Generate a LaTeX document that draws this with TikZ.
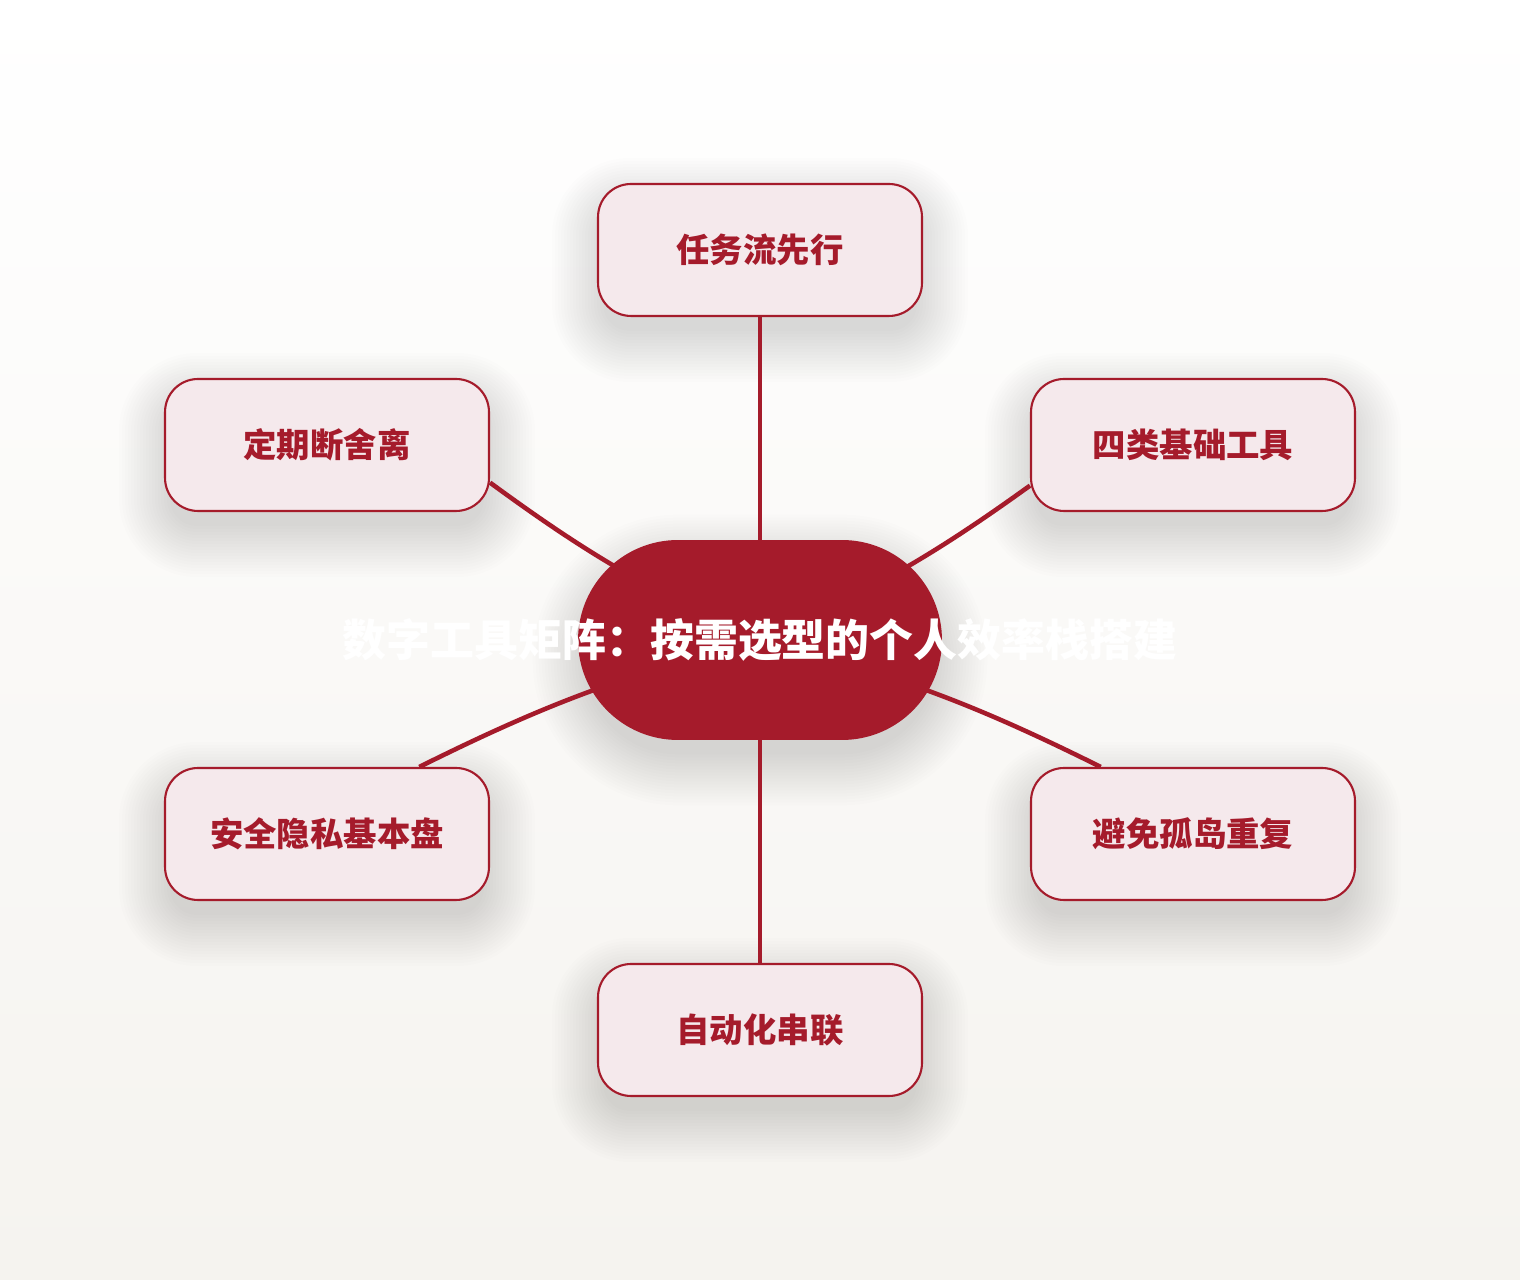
\documentclass[tikz,border=0pt]{standalone}
\usepackage{fontspec}
\newfontfamily\cjk{Noto Sans CJK SC}
\usetikzlibrary{calc}
\definecolor{myred}{RGB}{165,27,43}
\definecolor{mypink}{RGB}{245,233,236}
\definecolor{mybg}{RGB}{245,243,239}
\pgfdeclarelayer{back}
\pgfdeclarelayer{shade}
\pgfdeclarelayer{links}
\pgfsetlayers{back,shade,links,main}
\newcommand{\nodeshadow}[3]{%
  \begin{pgfonlayer}{shade}
    \foreach \r in {-6,-3,...,45}{
      \pgfmathsetmacro\rc{max(#2+\r,1)*0.02}
      \fill[black,opacity=#3,rounded corners=\rc cm] ($(#1.south west)+(-\r,-\r-20)$) rectangle ($(#1.north east)+(\r,\r-20)$);
    }
  \end{pgfonlayer}}

\begin{document}
\begin{tikzpicture}[x=0.02cm,y=0.02cm,
    leaf/.style={draw=myred,line width=1.2pt,fill=mypink,rounded corners=0.66cm,
      minimum width=6.48cm,minimum height=2.64cm,text=myred,
      font=\cjk\bfseries\fontsize{19}{23}\selectfont},
    hub/.style={fill=myred,rounded corners=2cm,minimum width=7.28cm,minimum height=4cm},
    link/.style={myred,line width=2.6pt}]
    \useasboundingbox (0,0) rectangle (1520,1280);
    \begin{pgfonlayer}{back}
        \shade[top color=white,bottom color=mybg] (0,0) rectangle (1520,1280);
    \end{pgfonlayer}
    \node[hub] (c) at (760,640) {};
    \node[text=white,font=\cjk\bfseries\fontsize{25}{30}\selectfont] (title) at (c) {数字工具矩阵：按需选型的个人效率栈搭建};
    \node[leaf] (task) at (760,1030) {任务流先行};
    \node[leaf] (purge) at (327,835) {定期断舍离};
    \node[leaf] (tools) at (1193,835) {四类基础工具};
    \node[leaf] (safe) at (327,446) {安全隐私基本盘};
    \node[leaf] (island) at (1193,446) {避免孤岛重复};
    \node[leaf] (auto) at (760,250) {自动化串联};
    \nodeshadow{c}{100}{0.009}
    \foreach \n in {task,purge,tools,safe,island,auto}
        \nodeshadow{\n}{33}{0.008};
    \begin{pgfonlayer}{links}
        \draw[link] (c.center) -- (task.south);
        \draw[link] (c.center) to[bend left=6] (purge.-13);
        \draw[link] (c.center) to[bend right=6] (tools.194);
        \draw[link] (c.center) to[bend right=6] (safe.36);
        \draw[link] (c.center) to[bend left=6] (island.144);
        \draw[link] (c.center) -- (auto.north);
    \end{pgfonlayer}
\end{tikzpicture}
\end{document}
